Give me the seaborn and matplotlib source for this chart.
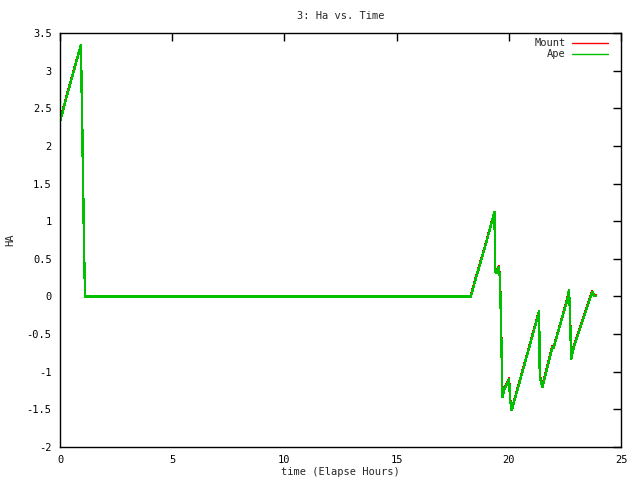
import matplotlib
matplotlib.use("Agg")
import matplotlib.pyplot as plt
import seaborn as sns
import pandas as pd

# breakpoints (hours, HA)
time_h = [0.00, 0.30, 0.60, 0.93, 0.95, 0.99, 1.03, 1.08, 1.12,
          18.31, 18.53, 18.68, 18.98, 19.36, 19.40, 19.44, 19.55, 19.60,
          19.63, 19.68, 19.72, 19.78, 20.01, 20.06, 20.13, 20.87, 21.35,
          21.38, 21.45, 21.50, 21.94, 22.00, 22.60, 22.68, 22.72, 22.78,
          22.90, 23.72, 23.80, 23.87]
ape_ha = [2.32, 2.66, 2.98, 3.34, 3.00, 2.30, 1.48, 0.49, 0.00,
          0.00, 0.24, 0.39, 0.70, 1.12, 0.32, 0.31, 0.39, 0.26,
          -0.03, -0.76, -1.34, -1.25, -1.10, -1.38, -1.51, -0.72, -0.20,
          -1.05, -1.15, -1.20, -0.67, -0.68, -0.05, 0.08, -0.16, -0.83,
          -0.67, 0.06, 0.01, 0.01]
mount_ha = [2.33, 2.67, 2.99, 3.34, 3.00, 2.30, 1.48, 0.49, 0.01,
            0.01, 0.25, 0.40, 0.71, 1.12, 0.33, 0.32, 0.40, 0.27,
            -0.02, -0.75, -1.33, -1.24, -1.09, -1.37, -1.50, -0.71, -0.19,
            -1.04, -1.14, -1.19, -0.66, -0.67, -0.04, 0.08, -0.15, -0.82,
            -0.66, 0.07, 0.02, 0.02]

series_names = ["Mount", "Ape"]
series_colors = {"Mount": "#ff0000", "Ape": "#00c000"}

df = pd.concat([
    pd.DataFrame({"time": time_h, "HA": mount_ha, "src": "Mount"}),
    pd.DataFrame({"time": time_h, "HA": ape_ha, "src": "Ape"}),
])

sns.set_style("white")
plt.rcParams["font.family"] = ["DejaVu Sans Mono"]
plt.rcParams["font.size"] = 7.5

fig = plt.figure(figsize=(6.4, 4.8), dpi=100)
ax = fig.add_axes([60 / 640, 1 - 447 / 480, 561 / 640, 414 / 480])

sns.lineplot(data=df, x="time", y="HA", hue="src", hue_order=series_names,
             palette=series_colors, estimator=None, sort=False,
             linewidth=1.0, antialiased=False, ax=ax)

ax.set_xlim(0, 25)
ax.set_ylim(-2, 3.5)
ax.set_xticks([0, 5, 10, 15, 20, 25])
ax.set_yticks([-2, -1.5, -1, -0.5, 0, 0.5, 1, 1.5, 2, 2.5, 3, 3.5])
ax.set_yticklabels(["-2", "-1.5", "-1", "-0.5", "0", "0.5", "1", "1.5",
                    "2", "2.5", "3", "3.5"])
ax.tick_params(direction="in", length=6, width=1, top=True, right=True,
               labelsize=7.5, pad=6, colors="black")
for s in ax.spines.values():
    s.set_color("black")
    s.set_linewidth(1.0)

ax.set_title("3: Ha vs. Time", fontsize=7.5, pad=10)
ax.set_xlabel("time (Elapse Hours)", fontsize=7.5, labelpad=1)
ax.set_ylabel("HA", fontsize=7.5, labelpad=8)

leg = ax.legend(loc="upper right", bbox_to_anchor=(0.989, 1.005),
                frameon=False, markerfirst=False,
                fontsize=7.5, handlelength=3.4, handletextpad=0.6,
                labelspacing=0.1, borderaxespad=0.3)
for t in leg.get_texts():
    t.set_ha("right")

fig.savefig("out.png", dpi=100)
